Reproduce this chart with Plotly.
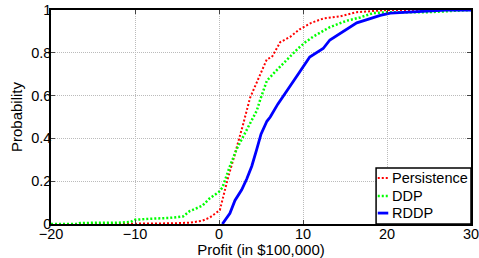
import plotly.graph_objects as go

# Persistence
pers_x = [-20, -11, -8, -5, -3.5, -2, -1.1, 0.1, 0.5, 1.1, 1.7, 2.3, 2.9, 3.7, 4.5, 5.1, 5.7, 6.3, 7.3, 8.5, 9.6, 11, 12.4, 14.4, 16.4, 18.3, 20, 30]
pers_y = [0, 0, 0.002, 0.004, 0.006, 0.015, 0.03, 0.065, 0.13, 0.22, 0.30, 0.38, 0.47, 0.59, 0.66, 0.72, 0.77, 0.78, 0.85, 0.875, 0.91, 0.94, 0.96, 0.97, 0.99, 0.995, 1, 1]
# DDP
ddp_x = [-20, -17, -16.5, -12, -10.5, -10, -8, -6, -4.3, -3.5, -2, -1.1, 0, 0.4, 1.3, 2.1, 2.9, 3.7, 4.5, 4.9, 5.7, 6.9, 8.1, 9.4, 10.3, 11.2, 13.2, 15.2, 16.8, 18.3, 20, 25, 30]
ddp_y = [0, 0, 0.005, 0.006, 0.01, 0.02, 0.025, 0.028, 0.035, 0.06, 0.085, 0.12, 0.15, 0.17, 0.27, 0.35, 0.41, 0.47, 0.53, 0.58, 0.67, 0.72, 0.77, 0.82, 0.85, 0.875, 0.92, 0.95, 0.965, 0.985, 0.99, 0.99, 1]
# RDDP
rddp_x = [0.4, 1.3, 1.9, 2.7, 3.3, 3.9, 4.5, 5.0, 5.7, 6.1, 7.0, 8.5, 9.6, 10.8, 12.4, 13.2, 14.8, 16.4, 18, 19.2, 20.4, 23, 27, 30]
rddp_y = [0, 0.05, 0.11, 0.16, 0.21, 0.27, 0.35, 0.42, 0.48, 0.50, 0.56, 0.65, 0.71, 0.78, 0.82, 0.86, 0.90, 0.94, 0.96, 0.975, 0.985, 0.99, 1, 1]

series_names = ["Persistence", "DDP", "RDDP"]
series_colors = ["#ff0000", "#00ff00", "#0000ff"]
series_dash = ["2px,2px", "2px,2px", "solid"]
series_width = [2, 2.5, 2.8]

x_ticks = [-20, -10, 0, 10, 20, 30]
y_ticks = [0, 0.2, 0.4, 0.6, 0.8, 1]
y_tick_text = ["0", "0.2", "0.4", "0.6", "0.8", "1"]

font = "Liberation Sans, Arial, sans-serif"
fig = go.Figure()
for xs, ys, nm, c, d, w in zip([pers_x, ddp_x, rddp_x], [pers_y, ddp_y, rddp_y],
                               series_names, series_colors, series_dash, series_width):
    fig.add_trace(go.Scatter(x=xs, y=ys, mode="lines", name=nm, showlegend=False,
                             line=dict(color=c, width=w, dash=d)))

# legend box (drawn in paper coordinates of the plot area)
shapes = [dict(type="rect", xref="paper", yref="paper", x0=0.774, x1=1.0, y0=0.0, y1=0.262,
               line=dict(color="black", width=1.5), fillcolor="white", layer="above")]
annotations = []
row_y = [0.215, 0.131, 0.051]
for nm, c, d, w, yy in zip(series_names, series_colors, series_dash, series_width, row_y):
    shapes.append(dict(type="line", xref="paper", yref="paper", x0=0.778, x1=0.803, y0=yy, y1=yy,
                       line=dict(color=c, width=w, dash=d), layer="above"))
    annotations.append(dict(xref="paper", yref="paper", x=0.807, y=yy, text=nm, showarrow=False,
                            xanchor="left", yanchor="middle", font=dict(size=14.5, family=font)))

fig.update_layout(
    width=479, height=258,
    margin=dict(l=51, r=8, t=10, b=34),
    paper_bgcolor="white", plot_bgcolor="white",
    font=dict(family=font, size=14.5, color="black"),
    showlegend=False,
    shapes=shapes, annotations=annotations,
)
fig.update_xaxes(range=[-20, 30], tickvals=x_ticks, ticks="inside", ticklen=4, automargin=False,
                 ticklabeloverflow="allow", ticklabelstandoff=-4,
                 showline=True, linecolor="black", linewidth=1.5, mirror="allticks",
                 showgrid=True, gridcolor="#bbbbbb", griddash="1px,1px", gridwidth=1,
                 zeroline=False,
                 title=dict(text="Profit (in $100,000)", standoff=3, font=dict(size=15)))
fig.update_yaxes(range=[0, 1], tickvals=y_ticks, ticktext=y_tick_text, ticks="inside", ticklen=4,
                 automargin=False, ticklabeloverflow="allow", ticklabelstandoff=-5,
                 showline=True, linecolor="black", linewidth=1.5, mirror="allticks",
                 showgrid=True, gridcolor="#bbbbbb", griddash="1px,1px", gridwidth=1,
                 zeroline=False,
                 title=dict(text="Probability", standoff=5, font=dict(size=15)))

fig.write_html("out.html", config={"displayModeBar": False},
               post_script="document.body.style.margin='0px';document.body.style.overflow='hidden';")
